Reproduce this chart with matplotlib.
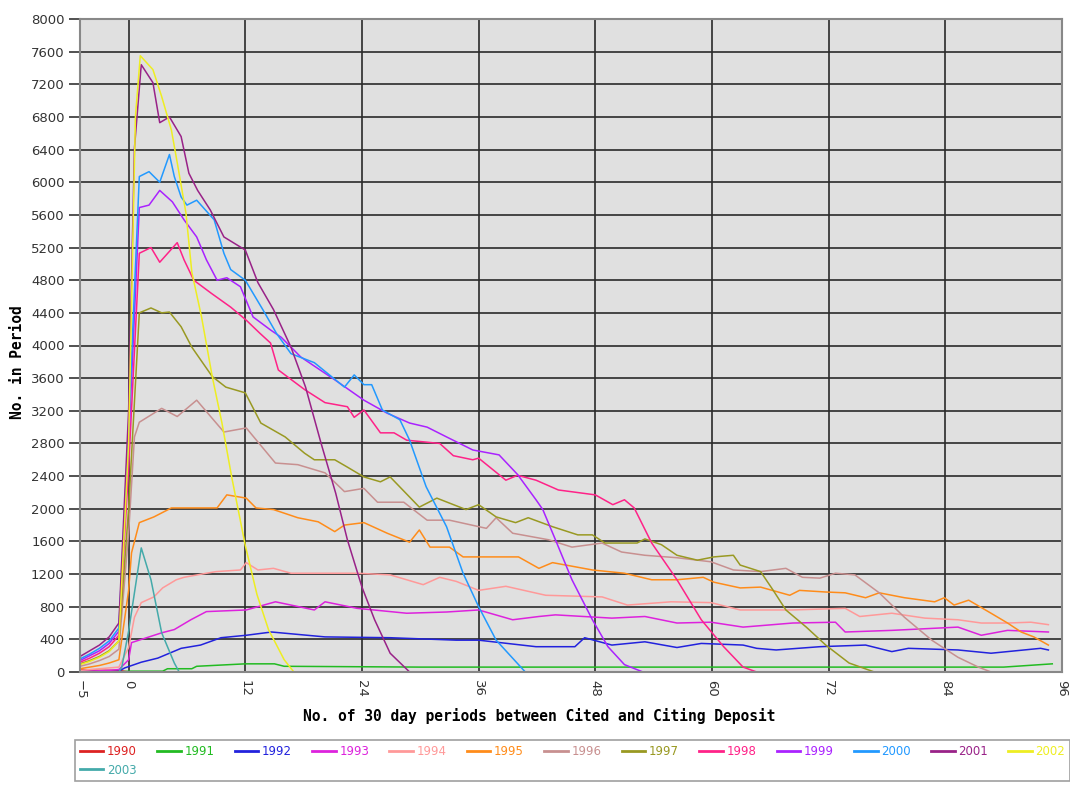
import matplotlib
matplotlib.use("Agg")
import matplotlib.pyplot as plt

# citing-deposit counts per 30 day period, one cohort per year
years = ['1990', '1991', '1992', '1993', '1994', '1995', '1996',
         '1997', '1998', '1999', '2000', '2001', '2002', '2003']
colors = ['#dd2222', '#22bb22', '#2222dd', '#dd22dd', '#ff9999', '#ff8c1a', '#c89090',
          '#999922', '#ff2288', '#aa22ff', '#2299ff', '#992288', '#eeee22', '#44aaaa']

x1990 = [-5, -3, -1, 0, 95]
y1990 = [30, 20, 20, 0, 0]

x1991 = [-5, -1, 0, 3.5, 4.0, 6.5, 7.0, 12.0, 15.0, 16.0, 30.0, 60.0, 90.0, 95.0]
y1991 = [0, 0, 10, 10, 40, 40, 70, 100, 100, 70, 60, 60, 60, 100]

x1992 = [-5, -1, -0.4, 1.3, 3.0, 5.4, 7.4, 9.5, 12.1, 14.7, 20.2, 26.9, 33.7, 36.0, 41.9,
         45.9, 46.9, 49.7, 53.1, 56.4, 58.9, 63.2, 64.6, 66.6, 71.1, 75.8, 78.5, 80.2,
         85.3, 88.7, 93.8, 94.6]
y1992 = [5, 10, 50, 120, 170, 290, 330, 420, 450, 490, 430, 420, 390, 390, 310,
         310, 420, 330, 370, 300, 350, 330, 290, 270, 310, 330, 250, 290,
         270, 230, 290, 270]

x1993 = [-5, -4, -3, -2, -1, 0, 0.3, 3.4, 4.7, 6.4, 8.0, 12.1, 15.1, 19.1, 20.2, 23.5,
         28.6, 32.7, 36.0, 39.5, 42.2, 43.9, 49.7, 53.1, 56.4, 59.9, 63.2, 68.3, 72.7,
         73.7, 78.5, 85.3, 87.7, 90.4, 94.6]
y1993 = [10, 10, 15, 20, 30, 150, 360, 480, 520, 640, 740, 760, 860, 760, 860, 780,
         720, 735, 760, 640, 680, 700, 660, 680, 600, 610, 550, 600, 610,
         490, 510, 550, 450, 510, 490]

x1994 = [-5, -4, -3, -2, -1, 0, 0.6, 1.3, 2.6, 3.5, 4.9, 5.7, 8.0, 9.0, 11.5, 12.1, 13.3,
         14.9, 16.7, 19.1, 23.5, 26.9, 30.3, 32.0, 33.7, 36.0, 38.8, 42.9, 48.7, 51.3,
         55.8, 59.9, 62.9, 68.3, 73.7, 75.2, 78.5, 81.9, 85.3, 87.7, 90.4, 92.8, 94.6]
y1994 = [20, 30, 40, 50, 60, 300, 670, 850, 920, 1030, 1130, 1160, 1210, 1230, 1250, 1340, 1250,
         1270, 1210, 1210, 1210, 1190, 1070, 1160, 1110, 1000, 1050, 940, 920, 820,
         860, 850, 760, 760, 780, 680, 720, 660, 640, 600, 600, 610, 580]

x1995 = [-5, -4, -3, -2, -1, 0, 0.3, 1.1, 2.6, 4.4, 9.1, 10.1, 12.1, 13.1, 14.9, 17.4,
         19.5, 21.2, 22.2, 24.2, 26.6, 28.9, 29.9, 31.0, 33.0, 34.4, 37.1, 40.1, 42.2,
         43.6, 47.7, 51.0, 53.8, 56.4, 59.1, 60.2, 62.9, 65.0, 68.0, 69.0, 71.7, 73.7,
         75.8, 77.2, 79.8, 82.9, 83.9, 84.9, 86.4, 88.7, 90.4, 91.8, 93.1, 94.6]
y1995 = [40, 60, 80, 110, 150, 1000, 1460, 1830, 1900, 2010, 2010, 2170, 2130, 2010, 1990, 1890,
         1840, 1720, 1800, 1830, 1700, 1590, 1740, 1530, 1530, 1410, 1410, 1410, 1270,
         1340, 1250, 1210, 1130, 1130, 1160, 1100, 1030, 1040, 940, 1000, 980, 970,
         910, 970, 910, 860, 910, 820, 880, 720, 600, 490, 430, 330]

x1996 = [-5, -4, -3, -2, -1, 0, 0.6, 1.1, 3.4, 5.0, 7.0, 9.8, 12.1, 15.1, 17.4, 20.2,
         22.2, 24.2, 25.6, 28.3, 30.7, 33.0, 36.8, 37.8, 39.5, 43.2, 45.6, 48.7, 50.7,
         53.1, 56.4, 59.9, 62.2, 65.0, 67.6, 69.3, 71.1, 72.7, 74.7, 77.2, 79.8, 82.6,
         85.3, 87.4, 88.7]
y1996 = [70, 100, 140, 190, 280, 1700, 2880, 3060, 3230, 3130, 3330, 2940, 2990, 2560, 2540, 2440,
         2210, 2250, 2080, 2080, 1860, 1860, 1760, 1890, 1700, 1620, 1530, 1580, 1470,
         1430, 1400, 1350, 1250, 1230, 1270, 1160, 1150, 1210, 1190, 970, 670, 390,
         180, 60, 0]

x1997 = [-5, -4, -3, -2, -1, 0, 1.1, 2.3, 3.4, 4.2, 5.4, 6.5, 8.6, 10.0, 12.0, 13.6,
         16.1, 18.1, 19.1, 21.2, 22.5, 24.2, 25.9, 26.9, 29.9, 31.7, 34.7, 36.0, 37.8,
         39.8, 41.1, 43.6, 46.2, 47.7, 49.0, 52.3, 53.1, 54.8, 56.4, 58.5, 60.2, 62.2,
         62.9, 65.0, 66.3, 67.6, 69.7, 71.7, 74.1, 76.7]
y1997 = [100, 140, 190, 260, 380, 2000, 4400, 4460, 4400, 4410, 4230, 3980, 3620, 3490, 3420, 3050,
         2880, 2680, 2600, 2600, 2510, 2390, 2330, 2390, 2020, 2130, 1990, 2050, 1900,
         1830, 1890, 1780, 1680, 1680, 1580, 1580, 1630, 1560, 1430, 1370, 1410, 1430,
         1310, 1230, 1000, 760, 550, 330, 110, 0]

x1998 = [-5, -4, -3, -2, -1, 0, 1.1, 2.3, 3.2, 5.0, 5.7, 6.7, 8.5, 10.5, 12.1, 13.5,
         14.6, 15.4, 18.1, 20.2, 22.5, 23.2, 24.2, 25.9, 27.3, 28.6, 32.0, 33.4, 35.4,
         36.0, 38.8, 40.0, 41.9, 44.2, 48.0, 49.8, 51.0, 52.0, 53.8, 56.4, 58.9, 61.2,
         63.2, 64.6]
y1998 = [120, 170, 230, 310, 450, 2500, 5130, 5200, 5020, 5260, 5050, 4800, 4640, 4470, 4310, 4150,
         4030, 3700, 3460, 3300, 3250, 3120, 3210, 2930, 2930, 2840, 2800, 2650, 2600,
         2620, 2350, 2410, 2350, 2230, 2170, 2050, 2110, 2010, 1580, 1130, 640, 310,
         60, 0]

x1999 = [-5, -4, -3, -2, -1, 0, 1.1, 2.1, 3.2, 4.5, 5.7, 7.0, 8.0, 9.1, 10.1, 11.5,
         12.8, 14.6, 15.7, 17.7, 21.2, 24.2, 26.6, 28.9, 30.7, 32.7, 35.4, 38.1, 40.0,
         41.9, 42.6, 43.9, 45.6, 47.7, 49.3, 51.0, 52.9]
y1999 = [140, 200, 260, 350, 500, 2800, 5690, 5720, 5900, 5760, 5540, 5330, 5050, 4800, 4830, 4720,
         4350, 4190, 4100, 3860, 3580, 3330, 3170, 3050, 3000, 2880, 2720, 2660, 2420,
         2110, 1990, 1620, 1130, 640, 310, 90, 0]

x2000 = [-5, -4, -3, -2, -1, 0, 1.1, 2.1, 3.2, 4.2, 4.7, 5.4, 6.0, 7.0, 8.8, 9.8, 10.5,
         12.0, 13.8, 15.2, 16.7, 19.1, 22.2, 23.2, 24.2, 25.0, 26.1, 27.9, 28.9, 30.6,
         32.7, 34.4, 36.0, 37.8, 40.8]
y2000 = [160, 220, 290, 380, 540, 3000, 6070, 6130, 6000, 6340, 6070, 5820, 5720, 5780, 5540, 5130, 4930,
         4800, 4440, 4150, 3900, 3790, 3490, 3640, 3520, 3520, 3210, 3090, 2840, 2270,
         1780, 1210, 800, 390, 0]

x2001 = [-5, -4, -3, -2, -1, 0, 0.6, 1.3, 2.5, 3.2, 4.2, 5.4, 6.2, 7.1, 8.4, 9.8, 12.0,
         13.3, 14.9, 16.7, 18.2, 19.8, 21.3, 22.5, 24.0, 25.3, 26.9, 28.9]
y2001 = [190, 260, 330, 430, 600, 3200, 6420, 7440, 7220, 6730, 6800, 6560, 6110, 5900, 5660, 5330, 5170,
         4770, 4440, 3980, 3490, 2800, 2190, 1620, 1040, 640, 230, 0]

x2002 = [-5, -4, -3, -2, -1, 0, 0.7, 1.2, 2.5, 3.4, 4.4, 5.0, 5.9, 6.5, 7.5, 8.6, 9.6,
         10.6, 12.0, 13.2, 14.4, 15.0, 16.0, 17.0]
y2002 = [90, 130, 180, 250, 380, 2800, 6800, 7550, 7380, 7050, 6640, 6240, 5620, 4900, 4350, 3620, 3050,
         2390, 1550, 950, 515, 380, 150, 0]

x2003 = [-5, -1, -0.7, 0, 1.3, 2.3, 3.4, 4.7, 5.2]
y2003 = [0, 0, 60, 500, 1520, 1130, 480, 110, 0]

xs = [x1990, x1991, x1992, x1993, x1994, x1995, x1996,
      x1997, x1998, x1999, x2000, x2001, x2002, x2003]
ys = [y1990, y1991, y1992, y1993, y1994, y1995, y1996,
      y1997, y1998, y1999, y2000, y2001, y2002, y2003]

xticks = [-5, 0, 12, 24, 36, 48, 60, 72, 84, 96]
yticks = list(range(0, 8001, 400))

fig = plt.figure(figsize=(10.7, 7.92), dpi=100)
ax = fig.add_axes([80/1070, 1 - 672/792, 982/1070, 653/792])
ax.set_facecolor('#e0e0e0')

lines = []
for yr, c, x, y in zip(years, colors, xs, ys):
    ln, = ax.plot(x, y, color=c, lw=1.1, label=yr)
    lines.append(ln)

ax.set_xlim(-5, 96)
ax.set_ylim(0, 8000)
ax.set_xticks(xticks)
ax.set_yticks(yticks)
ax.grid(color='#2a2a2a', lw=1.2)
ax.set_axisbelow(True)
ax.tick_params(axis='y', length=8, width=1.2, color='#333333', labelsize=9.5,
               labelcolor='#333333', pad=3)
ax.tick_params(axis='x', length=0, labelsize=9.5, labelcolor='#333333',
               labelrotation=-90, pad=6)
for s in ax.spines.values():
    s.set_color('#888888')
    s.set_linewidth(1.5)

fig.text(539/1070, 1 - 716/792, 'No. of 30 day periods between Cited and Citing Deposit',
         family='DejaVu Sans Mono', weight='bold', fontsize=10.5, ha='center', va='center')
fig.text(18/1070, 1 - 362/792, 'No. in Period', family='DejaVu Sans Mono',
         weight='bold', fontsize=10.5, rotation=90, ha='center', va='center')

# legend fills column-wise, so put 2003 second to land it under 1990
order = [0, 13] + list(range(1, 13))
leg = fig.legend([lines[i] for i in order], [years[i] for i in order],
                 loc='upper left', bbox_to_anchor=(75/1070, 0, 995/1070, 1 - 740/792),
                 mode='expand', ncol=13, fontsize=8.5, handlelength=2.0, handletextpad=0.3,
                 borderaxespad=0, fancybox=False, edgecolor='#888888',
                 labelcolor='linecolor', columnspacing=0.5)
leg.get_frame().set_linewidth(1.2)
for h in leg.get_lines():
    h.set_linewidth(2)

fig.savefig('out.png', dpi=100)
